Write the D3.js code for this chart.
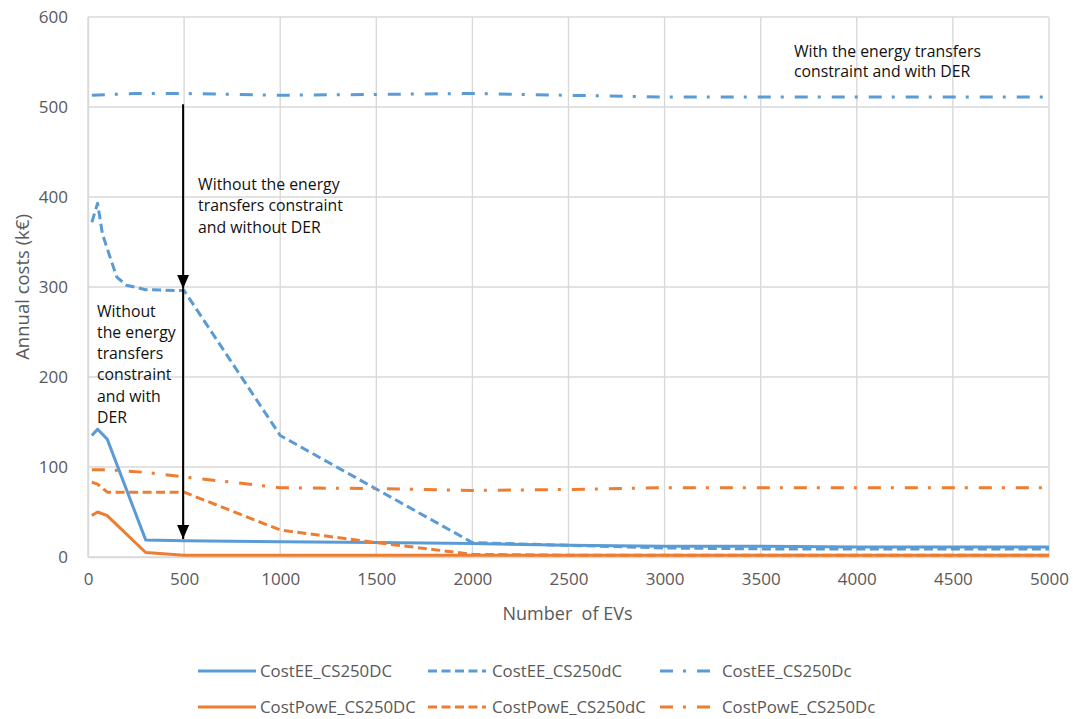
<!DOCTYPE html>
<html>
<head>
<meta charset="utf-8">
<script src="https://cdn.jsdelivr.net/npm/d3@7"></script>
<style>
  html, body { margin: 0; padding: 0; background: #fff; }
  svg { display: block; font-family: "Open Sans", "Noto Sans", sans-serif; }
</style>
</head>
<body>
<svg id="chart" width="1073" height="719"></svg>
<script>
// Annual costs (k€) versus number of EVs, one [EVs, cost] list per series
const costEE_CS250DC = [[20,135],[50,142],[100,131],[300,19],[500,18],[1000,17],[1500,16],[2000,15],[2500,13],[3000,12],[3500,12],[4000,11],[4500,11],[5000,11]];
const costEE_CS250dC = [[20,372],[50,393],[75,359],[115,333],[150,311],[200,302],[300,297],[500,296],[1000,135],[2000,16],[2500,13],[3000,10],[3500,9],[4000,9],[4500,9],[5000,9]];
const costEE_CS250Dc = [[20,513],[250,515],[500,515],[1000,513],[1500,514],[2000,515],[2500,513],[3000,511],[3500,511],[4000,511],[4500,511],[5000,511]];
const costPowE_CS250DC = [[20,46],[50,50],[100,46],[300,5],[500,2],[1000,2],[1500,2],[2000,2],[2500,2],[3000,2],[3500,2],[4000,2],[4500,2],[5000,2]];
const costPowE_CS250dC = [[20,83],[50,81],[100,72],[300,72],[500,72],[1000,30],[1500,16],[2000,3],[2500,2],[3000,2],[3500,2],[4000,2],[4500,2],[5000,2]];
const costPowE_CS250Dc = [[20,97],[100,97],[300,94],[500,89],[1000,77],[1500,76],[2000,74],[2500,75],[3000,77],[3500,77],[4000,77],[4500,77],[5000,77]];

const seriesNames = ["CostEE_CS250DC","CostEE_CS250dC","CostEE_CS250Dc","CostPowE_CS250DC","CostPowE_CS250dC","CostPowE_CS250Dc"];
const seriesData = [costEE_CS250DC, costEE_CS250dC, costEE_CS250Dc, costPowE_CS250DC, costPowE_CS250dC, costPowE_CS250Dc];

const xTicks = [0,500,1000,1500,2000,2500,3000,3500,4000,4500,5000];
const yTicks = [0,100,200,300,400,500,600];

// Annotation arrows along EVs = 500 (cost from -> cost to)
const arrowSegments = [[503, 298], [298, 20]];
const notes = [
  { x: 500, y: 408, dx: 14, lh: 21.5, lines: ["Without the energy", "transfers constraint", "and without DER"] },
  { x: 0,   y: 267, dx: 9,  lh: 21.2, lines: ["Without", "the energy", "transfers", "constraint", "and with", "DER"] },
  { x: 3600, y: 556, dx: 14, lh: 20.5, lines: ["With the energy transfers", "constraint and with DER"] }
];

const blue = "#5B9BD5", orange = "#ED7D31";
const colors = [blue, blue, blue, orange, orange, orange];
const dashes = [null, "9,4.5", "13,10,3,11", null, "9,4.5", "13,10,3,11"];

const svg = d3.select("#chart");
const plotLeft = 88, plotRight = 1049, plotTop = 17, plotBottom = 557;

const x = d3.scaleLinear().domain([0, 5000]).range([plotLeft, plotRight]);
const y = d3.scaleLinear().domain([0, 600]).range([plotBottom, plotTop]);

// gridlines
const grid = svg.append("g");
grid.selectAll("line.h").data(yTicks).join("line").attr("class", "h")
  .attr("x1", plotLeft).attr("x2", plotRight)
  .attr("y1", d => y(d)).attr("y2", d => y(d))
  .attr("stroke", "#d9d9d9").attr("stroke-width", 1.4);
grid.selectAll("line.v").data(xTicks).join("line").attr("class", "v")
  .attr("x1", d => x(d)).attr("x2", d => x(d))
  .attr("y1", plotTop).attr("y2", plotBottom)
  .attr("stroke", "#d9d9d9").attr("stroke-width", 1.4);

// axes
const xAxis = svg.append("g").attr("transform", `translate(0,${plotBottom})`)
  .call(d3.axisBottom(x).tickValues(xTicks).tickSize(0).tickPadding(16).tickFormat(d3.format("d")));
const yAxis = svg.append("g").attr("transform", `translate(${plotLeft},0)`)
  .call(d3.axisLeft(y).tickValues(yTicks).tickSize(0).tickPadding(20).tickFormat(d3.format("d")));
[xAxis, yAxis].forEach(a => {
  a.select(".domain").attr("stroke", "#d9d9d9").attr("stroke-width", 1.4);
  a.selectAll("text").attr("fill", "#595959").style("font-size", "17px")
    .style("font-family", '"Open Sans", sans-serif');
});

// axis titles
svg.append("text").attr("x", (plotLeft + plotRight) / 2 - 1).attr("y", 620)
  .attr("text-anchor", "middle").attr("fill", "#595959").style("font-size", "18px")
  .style("white-space", "pre").text("Number  of EVs");
svg.append("text").attr("transform", `translate(29,${(plotTop + plotBottom) / 2}) rotate(-90)`)
  .attr("text-anchor", "middle").attr("fill", "#595959").style("font-size", "18.5px")
  .text("Annual costs (k€)");

// series lines
const line = d3.line().x(d => x(d[0])).y(d => y(d[1]));
seriesData.forEach((s, i) => {
  svg.append("path").datum(s)
    .attr("d", line)
    .attr("fill", "none")
    .attr("stroke", colors[i])
    .attr("stroke-width", 3)
    .attr("stroke-linejoin", "round")
    .attr("stroke-dasharray", dashes[i]);
});

// downward arrow heads
const defs = svg.append("defs");
defs.append("marker").attr("id", "head")
  .attr("viewBox", "0 0 12 14").attr("refX", 6).attr("refY", 14)
  .attr("markerWidth", 12).attr("markerHeight", 14)
  .attr("markerUnits", "userSpaceOnUse").attr("orient", 0)
  .append("path").attr("d", "M0,0 L12,0 L6,14 Z").attr("fill", "#000");

arrowSegments.forEach(([from, to]) => {
  svg.append("line")
    .attr("x1", x(500) - 1).attr("x2", x(500) - 1)
    .attr("y1", y(from)).attr("y2", y(to))
    .attr("stroke", "#000").attr("stroke-width", 2)
    .attr("marker-end", "url(#head)");
});

// annotation notes
notes.forEach(n => {
  const tx = x(n.x) + n.dx;
  const t = svg.append("text")
    .attr("x", tx).attr("y", y(n.y))
    .attr("fill", "#111").style("font-size", "15.8px");
  t.selectAll("tspan").data(n.lines).join("tspan")
    .attr("x", tx)
    .attr("dy", (d, i) => i === 0 ? 0 : n.lh)
    .text(d => d);
});

// legend
const legendCols = [[198, 256, 260], [428, 486, 492], [660, 714, 722]];
const legendRows = [671, 707];
seriesNames.forEach((name, i) => {
  const col = legendCols[i % 3], rowY = legendRows[Math.floor(i / 3)];
  svg.append("line")
    .attr("x1", col[0]).attr("x2", col[1]).attr("y1", rowY).attr("y2", rowY)
    .attr("stroke", colors[i]).attr("stroke-width", 3)
    .attr("stroke-dasharray", dashes[i]);
  svg.append("text").attr("x", col[2]).attr("y", rowY + 6)
    .attr("fill", "#595959").style("font-size", "16.8px").text(name);
});
</script>
</body>
</html>
